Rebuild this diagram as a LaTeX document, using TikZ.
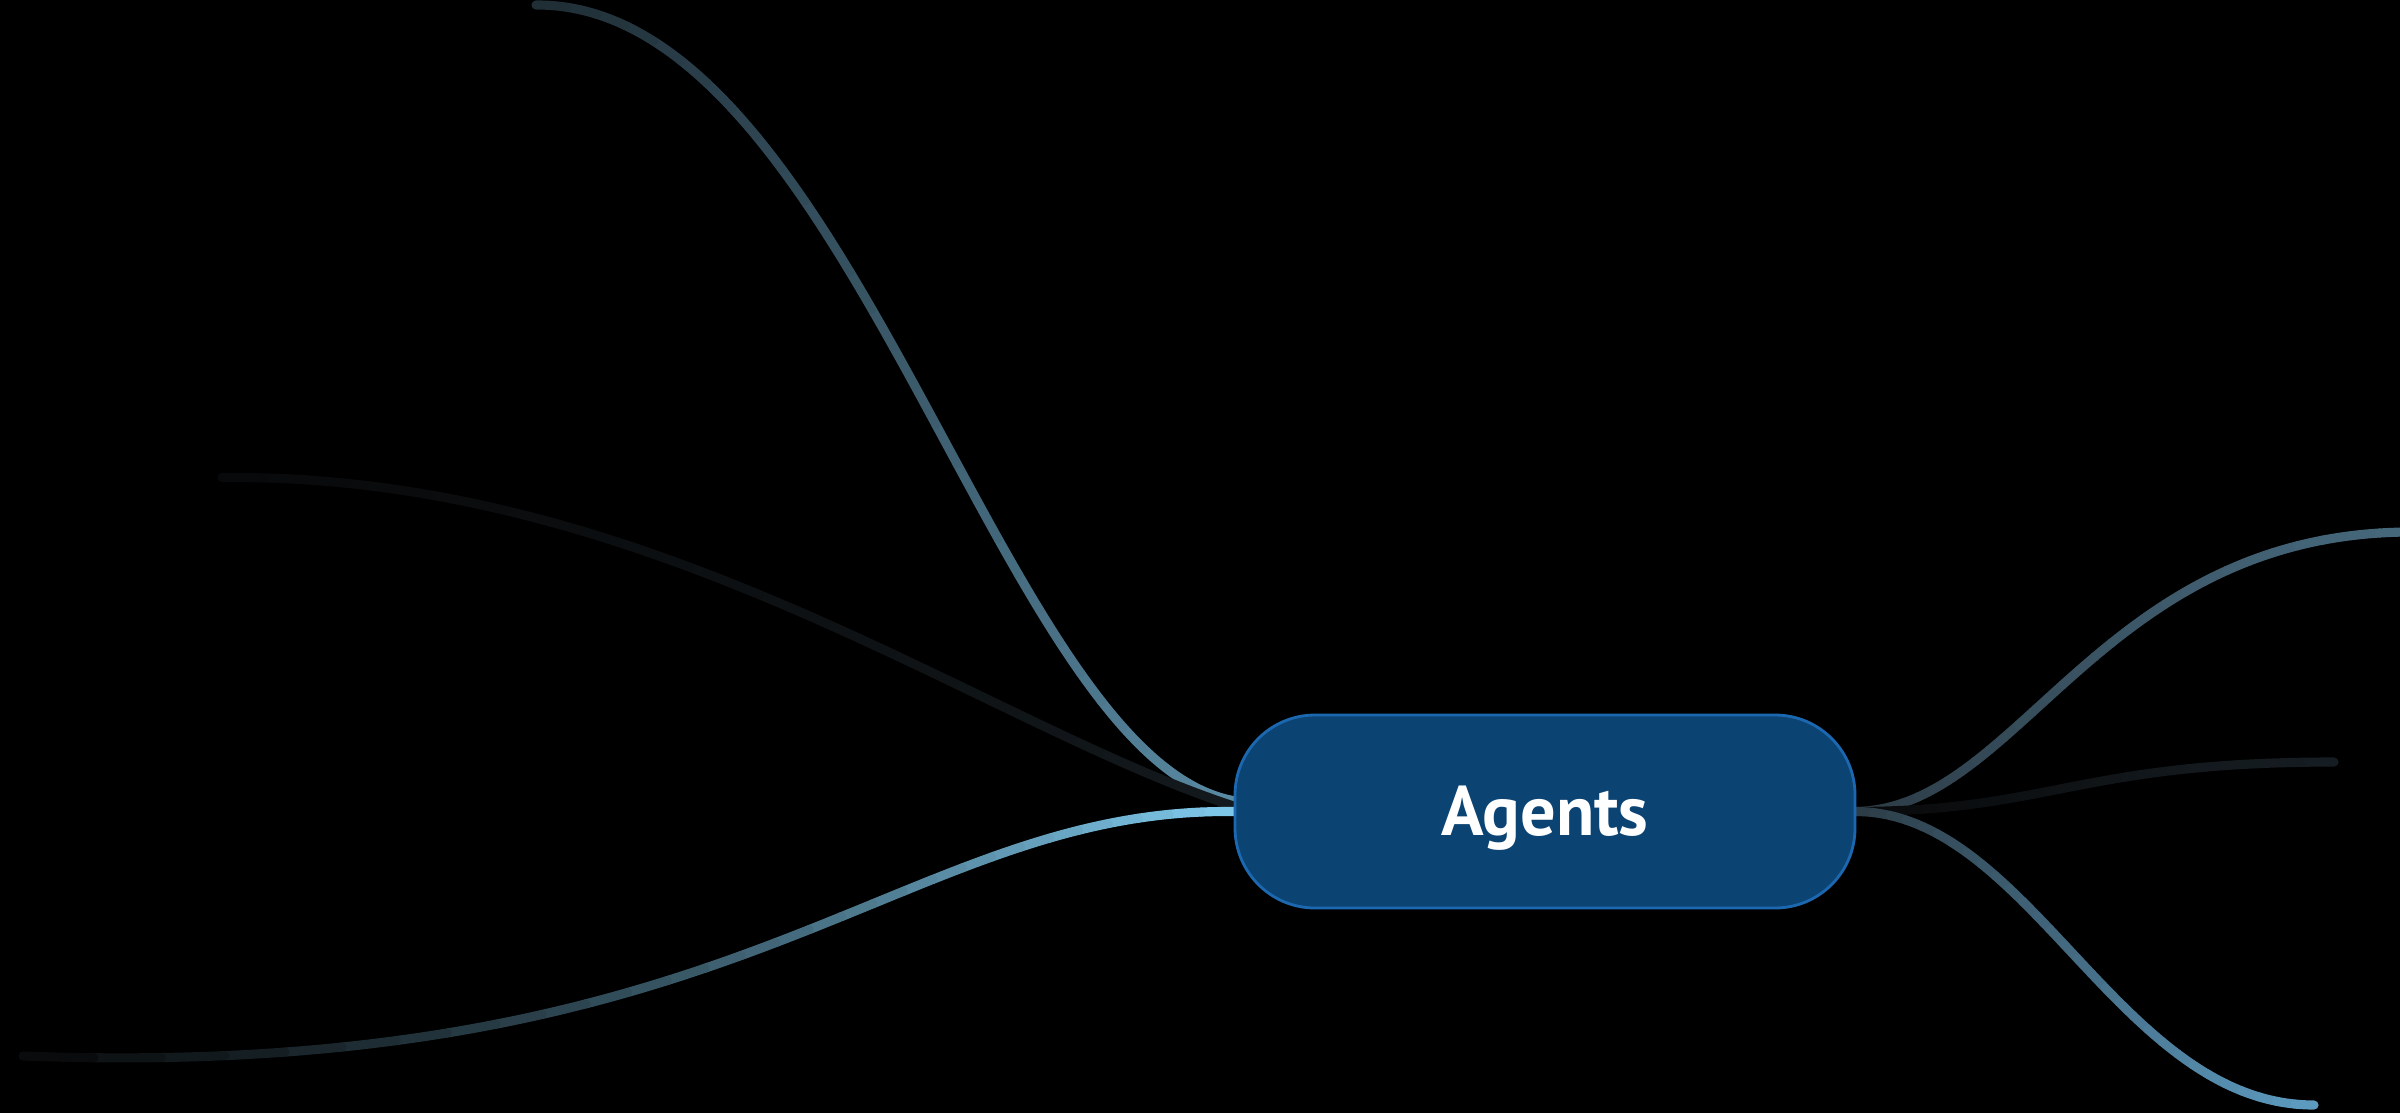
\documentclass[tikz,border=0pt]{standalone}
\usepackage{fontspec}
\usepackage{xcolor}
\usepackage{tikz}
\usetikzlibrary{positioning}

\newfontfamily\labelfont{PT Sans}

\definecolor{nodefill}{HTML}{0B4373}
\definecolor{nodeedge}{HTML}{1C68B0}
\definecolor{lightlink}{HTML}{80CBEE}
\definecolor{steellink}{HTML}{5A8CA6}
\definecolor{bluelink}{HTML}{5C9BC0}
\definecolor{midlink}{HTML}{46687C}
\definecolor{greylink}{HTML}{2C3B45}
\definecolor{darklink}{HTML}{1F2D35}
\definecolor{faintlink}{HTML}{13191D}
\definecolor{rightlink}{HTML}{161D22}
\definecolor{nearblack}{HTML}{08090A}

\pgfdeclarelayer{backdrop}
\pgfdeclarelayer{links}
\pgfsetlayers{backdrop,links,main}

% curve drawn in short pieces, colour going from #5 to #6
\newcommand{\gradlink}[6]{%
    \foreach \k in {1,...,30}{%
        \pgfmathsetmacro{\ta}{(\k-1)/30}%
        \pgfmathsetmacro{\tb}{\k/30}%
        \pgfmathtruncatemacro{\mix}{100-(\k-0.5)*100/30}%
        \colorlet{segcol}{#5!\mix!#6}%
        \pgfsetstrokecolor{segcol}%
        \pgfsetlinewidth{2.6pt}%
        \pgfsetroundcap%
        \pgfpathcurvebetweentime{\ta}{\tb}{#1}{#2}{#3}{#4}%
        \pgfusepath{stroke}%
    }%
}

\begin{document}
\begin{tikzpicture} [
            % ----- Node definitions ----- %
            agentnode/.style = {
                draw = nodeedge,
                line width = 0.8pt,
                rectangle,
                rounded corners = 0.8cm,
                fill = nodefill,
                minimum width = 6.2cm,
                minimum height = 1.93cm,
                inner sep = 0pt,
                text = white,
                text height = 13.5pt,
                text depth = 0pt,
                font = \labelfont\bfseries\fontsize{20}{24}\selectfont
            },
    ]

            % ----- Canvas ----- %
        \useasboundingbox (0,0) rectangle (24,11.13);
        \begin{pgfonlayer}{backdrop}
            \fill [black] (0,0) rectangle (24,11.13);
        \end{pgfonlayer}

            % ----- Node constructions ----- %
        \node [agentnode] (agents) at (15.45,3.015) {Agents};

        \coordinate (tl-end) at (5.36,11.08);
        \coordinate (ml-end) at (2.22,6.355);
        \coordinate (bl-end) at (0.23,0.57);
        \coordinate (tr-end) at (24.1,5.81);
        \coordinate (mr-end) at (23.34,3.51);
        \coordinate (br-end) at (23.14,0.08);

            % ----- Links ----- %
        \begin{pgfonlayer}{links}
            \gradlink{\pgfpointanchor{agents}{178.5}}{\pgfpointxy{10.0}{3.55}}{\pgfpointxy{8.5}{11.1}}{\pgfpointanchor{tl-end}{center}}{steellink}{darklink}
            \gradlink{\pgfpointanchor{agents}{179}}{\pgfpointxy{9.8}{3.9}}{\pgfpointxy{6.5}{6.4}}{\pgfpointanchor{ml-end}{center}}{faintlink}{nearblack}
            \gradlink{\pgfpointanchor{agents}{west}}{\pgfpointxy{9.0}{3.05}}{\pgfpointxy{7.5}{0.3}}{\pgfpointanchor{bl-end}{center}}{lightlink}{nearblack}
            \gradlink{\pgfpointanchor{agents}{0.6}}{\pgfpointxy{20.2}{3.05}}{\pgfpointxy{21.0}{5.8}}{\pgfpointanchor{tr-end}{center}}{greylink}{midlink}
            \gradlink{\pgfpointanchor{agents}{east}}{\pgfpointxy{20.5}{3.02}}{\pgfpointxy{20.8}{3.51}}{\pgfpointanchor{mr-end}{center}}{nearblack}{rightlink}
            \gradlink{\pgfpointanchor{agents}{-0.4}}{\pgfpointxy{20.3}{3.0}}{\pgfpointxy{21.2}{0.08}}{\pgfpointanchor{br-end}{center}}{greylink}{bluelink}
        \end{pgfonlayer}

\end{tikzpicture}
\end{document}
